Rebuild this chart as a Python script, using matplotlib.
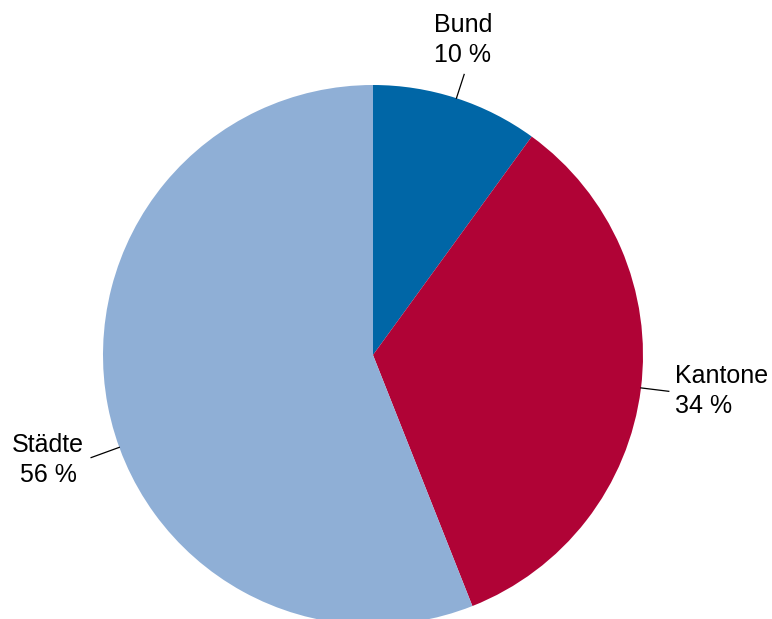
import matplotlib.pyplot as plt
import numpy as np

plt.rcParams['font.family'] = ['Liberation Sans', 'DejaVu Sans']

labels = ["Bund", "Kantone", "Städte"]
shares = [10, 34, 56]
colors = ["#0066a6", "#b00336", "#8fafd6"]

# pixel layout (y measured from the top of the image)
W, H = 772, 619
cx, cy, rad = 373, 355, 270
leader_deg = [18, 97, 250]          # clockwise from 12 o'clock
leader_out = [295, 298, 300]
text_xy = [(463, 40), (675, 391), (48, 460)]
text_ha = ["center", "left", "center"]

fig = plt.figure(figsize=(W / 100, H / 100), dpi=100)
ax = fig.add_axes([0, 0, 1, 1])

ax.pie(shares, colors=colors, startangle=90, counterclock=False,
       center=(cx, H - cy), radius=rad, frame=True,
       wedgeprops=dict(linewidth=0))
ax.set_xlim(0, W)
ax.set_ylim(0, H)
ax.set_aspect("equal")
ax.axis("off")

for lab, val, deg, rout, (tx, ty), ha in zip(labels, shares, leader_deg,
                                            leader_out, text_xy, text_ha):
    a = np.radians(deg)
    x0, y0 = cx + rad * np.sin(a), H - (cy - rad * np.cos(a))
    x1, y1 = cx + rout * np.sin(a), H - (cy - rout * np.cos(a))
    ax.plot([x0, x1], [y0, y1], color="black", lw=0.9)
    ax.text(tx, H - ty, f"{lab}\n{val} %", ha=ha, va="center",
            multialignment=ha, fontsize=18, linespacing=1.3)

fig.savefig("out.png", dpi=100)
